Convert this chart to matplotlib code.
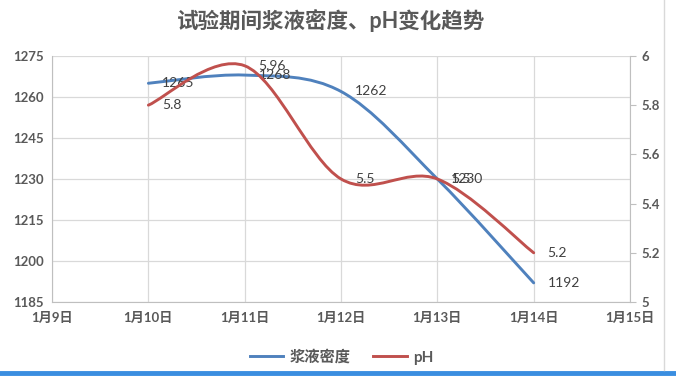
import matplotlib
matplotlib.use("Agg")
import matplotlib.pyplot as plt
from matplotlib.path import Path
from matplotlib.patches import PathPatch
from matplotlib.lines import Line2D

plt.rcParams['font.family'] = ['Lato', 'Noto Sans CJK SC', 'DejaVu Sans']

title = "试验期间浆液密度、pH变化趋势"
days = [10, 11, 12, 13, 14]
density = [1265, 1268, 1262, 1230, 1192]
ph = [5.8, 5.96, 5.5, 5.5, 5.2]
tick_days = [9, 10, 11, 12, 13, 14, 15]
tick_labels = [f"1月{d}日" for d in tick_days]
density_ticks = [1185, 1200, 1215, 1230, 1245, 1260, 1275]
ph_ticks = [5, 5.2, 5.4, 5.6, 5.8, 6]
density_label = "浆液密度"
ph_label = "pH"

BLUE = "#4F81BD"
RED = "#C0504D"
GRID = "#D9D9D9"
TXT = "#595959"


def smooth_path(xs, ys):
    n = len(xs)
    verts = [(xs[0], ys[0])]
    codes = [Path.MOVETO]
    for i in range(n - 1):
        i0 = max(i - 1, 0)
        i3 = min(i + 2, n - 1)
        c1 = (xs[i] + (xs[i + 1] - xs[i0]) / 6, ys[i] + (ys[i + 1] - ys[i0]) / 6)
        c2 = (xs[i + 1] - (xs[i3] - xs[i]) / 6, ys[i + 1] - (ys[i3] - ys[i]) / 6)
        verts += [c1, c2, (xs[i + 1], ys[i + 1])]
        codes += [Path.CURVE4] * 3
    return Path(verts, codes)


fig = plt.figure(figsize=(6.76, 3.78), dpi=100)
ax = fig.add_axes([0.077, 0.201, 0.855, 0.651])
ax2 = ax.twinx()

ax.set_xlim(tick_days[0], tick_days[-1])
ax.set_ylim(density_ticks[0], density_ticks[-1])
ax2.set_ylim(ph_ticks[0], ph_ticks[-1])

ax.set_xticks(tick_days)
ax.set_xticklabels(tick_labels)
ax.set_yticks(density_ticks)
ax2.set_yticks(ph_ticks)
ax2.set_yticklabels([f"{v:g}" for v in ph_ticks])

ax.grid(True, color=GRID, linewidth=0.9)
ax.set_axisbelow(True)
for a in (ax, ax2):
    for s in a.spines.values():
        s.set_color("#BFBFBF")
    a.spines['top'].set_visible(False)
ax.spines['right'].set_visible(False)
ax2.spines['left'].set_visible(False)
ax2.spines['bottom'].set_visible(False)

ax.tick_params(axis='both', length=0, colors=TXT, labelsize=9.5, pad=6)
ax.tick_params(axis='x', pad=7)
ax2.tick_params(axis='y', length=4, direction='out', color="#BFBFBF",
                colors=TXT, labelsize=9.5, pad=4)
for lab in ax.get_xticklabels() + ax.get_yticklabels() + ax2.get_yticklabels():
    lab.set_fontweight('bold')
    lab.set_color(TXT)

ax.add_patch(PathPatch(smooth_path(days, density), fill=False, edgecolor=BLUE,
                       linewidth=2.1, capstyle='round', zorder=3))
ax2.add_patch(PathPatch(smooth_path(days, ph), fill=False, edgecolor=RED,
                        linewidth=2.1, capstyle='round', zorder=3))

for d, v in zip(days, density):
    ax.annotate(f"{v}", (d, v), xytext=(10, 0), textcoords='offset points',
                ha='left', va='center', fontsize=10, color="#404040", zorder=5)
for d, v in zip(days, ph):
    ax2.annotate(f"{v:g}", (d, v), xytext=(10, 0), textcoords='offset points',
                 ha='left', va='center', fontsize=10, color="#404040", zorder=5)

fig.text(0.49, 0.945, title, ha='center', va='center', fontsize=15.5,
         color=TXT, fontweight='bold')

handles = [Line2D([], [], color=BLUE, lw=2.1), Line2D([], [], color=RED, lw=2.1)]
leg = fig.legend(handles, [density_label, ph_label], loc='center',
                 bbox_to_anchor=(0.505, 0.055), ncol=2, frameon=False,
                 fontsize=11, handlelength=2.2, handletextpad=0.4, columnspacing=1.5)
for t in leg.get_texts():
    t.set_color(TXT)
    t.set_fontweight('bold')

fig.add_artist(Line2D([0, 1], [0.012, 0.012], transform=fig.transFigure,
                      color="#3A8EE0", linewidth=3.5))
fig.add_artist(Line2D([0.982, 0.982], [0.02, 1.0], transform=fig.transFigure,
                      color="#D9D9D9", linewidth=1.0))

fig.savefig("out.png", dpi=100, facecolor='white')
